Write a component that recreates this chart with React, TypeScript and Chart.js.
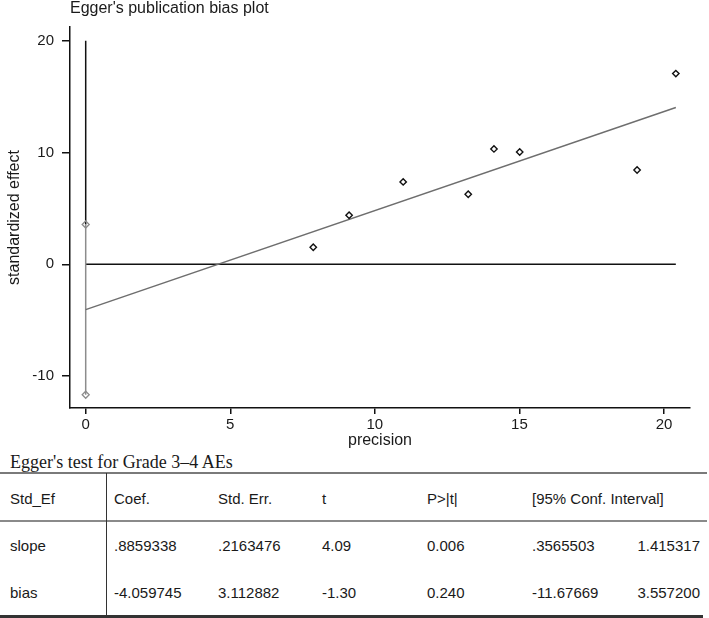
import React, { useEffect, useRef } from "react";
import { Chart, registerables } from "chart.js";

Chart.register(...registerables);

// ---- chart data ----
const studyPrecision = [7.87, 9.11, 10.98, 13.23, 14.12, 15.01, 19.07, 20.41];
const studyStdEffect = [1.52, 4.39, 7.37, 6.27, 10.32, 10.05, 8.44, 17.06];
const fitPrecision = [0, 20.41];
const fitEffect = [-4.06, 14.02];
const zeroLinePrecision = [0, 20.41];
const zeroLineEffect = [0, 0];
const refLineEffect = [20, 3.5572];
const biasCIEffect = [3.5572, -11.67669];
const xTicks = [0, 5, 10, 15, 20];
const yTicks = [-10, 0, 10, 20];

const chartTitle = "Egger's publication bias plot";
const xTitle = "precision";
const yTitle = "standardized effect";

// ---- table data ----
const tableCaption = "Egger's test for Grade 3\u20134 AEs";
const tableHeader = ["Std_Ef", "Coef.", "Std. Err.", "t", "P>|t|", "[95% Conf. Interval]"];
const slopeRow = ["slope", ".8859338", ".2163476", "4.09", "0.006", ".3565503", "1.415317"];
const biasRow = ["bias", "-4.059745", "3.112882", "-1.30", "0.240", "-11.67669", "3.557200"];
const tableRows = [slopeRow, biasRow];

// ---- layout / style ----
const SANS = '"Liberation Sans", Arial, sans-serif';
const SERIF = '"Liberation Serif", "Times New Roman", serif';
const TEXT = "#1a1a1a";
const colLeft = [10, 114, 218, 322, 427, 532];
const lastColRight = 700;
const headerCenterY = 499;
const rowCenterY = [546, 592.5];

const titlePlugin = {
  id: "areaTitle",
  afterDraw(chart: any) {
    const ctx = chart.ctx;
    ctx.save();
    ctx.font = `16px ${SANS}`;
    ctx.fillStyle = TEXT;
    ctx.textBaseline = "middle";
    ctx.textAlign = "left";
    ctx.fillText(chartTitle, chart.chartArea.left, 9);
    ctx.restore();
  },
};

function EggerChart() {
  const ref = useRef<HTMLCanvasElement | null>(null);
  useEffect(() => {
    if (!ref.current) return;
    const xy = (xs: number[], ys: number[]) => xs.map((x, i) => ({ x, y: ys[i] }));
    const chart = new Chart(ref.current, {
      type: "scatter",
      data: {
        datasets: [
          {
            label: "studies",
            data: xy(studyPrecision, studyStdEffect),
            pointStyle: "rectRot",
            pointRadius: 3.2,
            pointBorderWidth: 1.4,
            pointBorderColor: "#111",
            pointBackgroundColor: "#fff",
            showLine: false,
          },
          {
            label: "fit",
            data: xy(fitPrecision, fitEffect),
            showLine: true,
            borderColor: "#6e6e6e",
            borderWidth: 1.5,
            pointRadius: 0,
          },
          {
            label: "bias CI",
            data: xy([0, 0], biasCIEffect),
            showLine: true,
            borderColor: "#8c8c8c",
            borderWidth: 1.5,
            pointStyle: "rectRot",
            pointRadius: 3.5,
            pointBorderWidth: 1.3,
            pointBorderColor: "#8c8c8c",
            pointBackgroundColor: "rgba(255,255,255,0)",
          },
          {
            label: "ref",
            data: xy([0, 0], refLineEffect),
            showLine: true,
            borderColor: "#111",
            borderWidth: 1.5,
            pointRadius: 0,
          },
          {
            label: "zero",
            data: xy(zeroLinePrecision, zeroLineEffect),
            showLine: true,
            borderColor: "#111",
            borderWidth: 1.5,
            pointRadius: 0,
          },
        ],
      },
      options: {
        animation: false,
        responsive: false,
        devicePixelRatio: 1,
        layout: { padding: { top: 27, right: 19, left: 0, bottom: 0 } },
        plugins: {
          legend: { display: false },
          tooltip: { enabled: false },
          title: { display: false },
        },
        scales: {
          x: {
            type: "linear",
            min: -0.543,
            max: 20.9,
            afterBuildTicks: (s: any) => {
              s.ticks = xTicks.map((v) => ({ value: v }));
            },
            afterFit: (s: any) => {
              s.height = 42;
            },
            grid: { drawOnChartArea: false, drawTicks: true, tickLength: 6, color: "#111", lineWidth: 1.5 },
            border: { display: true, color: "#111", width: 1.5 },
            ticks: { color: TEXT, font: { family: SANS, size: 15 }, padding: 2, maxRotation: 0 },
            title: { display: true, text: xTitle, color: TEXT, font: { family: SANS, size: 16 }, padding: 0 },
          },
          y: {
            type: "linear",
            min: -12.86,
            max: 21.23,
            afterBuildTicks: (s: any) => {
              s.ticks = yTicks.map((v) => ({ value: v }));
            },
            afterFit: (s: any) => {
              s.width = 70;
            },
            grid: { drawOnChartArea: false, drawTicks: true, tickLength: 8, color: "#111", lineWidth: 1.5 },
            border: { display: true, color: "#111", width: 1.5 },
            ticks: { color: TEXT, font: { family: SANS, size: 15 }, padding: 8 },
            title: { display: true, text: yTitle, color: TEXT, font: { family: SANS, size: 16 }, padding: { top: 5, bottom: 0 } },
          },
        },
      },
      plugins: [titlePlugin],
    } as any);
    return () => chart.destroy();
  }, []);
  return <canvas ref={ref} width={709} height={450} style={{ position: "absolute", left: 0, top: 0, width: 709, height: 450 }} />;
}

function Cell({ text, left, right, cy }: { text: string; left?: number; right?: number; cy: number }) {
  const style: React.CSSProperties = {
    position: "absolute",
    top: cy - 9,
    height: 18,
    lineHeight: "18px",
    fontFamily: SANS,
    fontSize: 15,
    color: TEXT,
    whiteSpace: "nowrap",
  };
  if (left !== undefined) style.left = left;
  if (right !== undefined) style.right = 709 - right;
  return <div style={style}>{text}</div>;
}

function HLine({ y, h, color, x0 = 0, x1 = 707 }: { y: number; h: number; color: string; x0?: number; x1?: number }) {
  return <div style={{ position: "absolute", left: x0, width: x1 - x0, top: y - h / 2, height: h, background: color }} />;
}

export default function App() {
  return (
    <div style={{ position: "absolute", left: 0, top: 0, width: 709, height: 618, background: "#fff", overflow: "hidden" }}>
      <EggerChart />
      <div
        style={{
          position: "absolute",
          left: 10,
          top: 451,
          height: 22,
          lineHeight: "22px",
          fontFamily: SERIF,
          fontSize: 18,
          color: TEXT,
          whiteSpace: "nowrap",
        }}
      >
        {tableCaption}
      </div>
      <HLine y={473} h={2} color="#7a7a7a" />
      <HLine y={520.5} h={2} color="#8a8a8a" />
      <HLine y={616.5} h={2.5} color="#333" x1={703} />
      <div style={{ position: "absolute", left: 105.5, width: 1.2, top: 473, height: 144, background: "#333" }} />
      {tableHeader.map((h, i) => (
        <Cell key={"h" + i} text={h} left={colLeft[i]} cy={headerCenterY} />
      ))}
      {tableRows.map((row, r) =>
        row.map((v, i) =>
          i < colLeft.length ? (
            <Cell key={r + "-" + i} text={v} left={colLeft[i]} cy={rowCenterY[r]} />
          ) : (
            <Cell key={r + "-" + i} text={v} right={lastColRight} cy={rowCenterY[r]} />
          )
        )
      )}
    </div>
  );
}
